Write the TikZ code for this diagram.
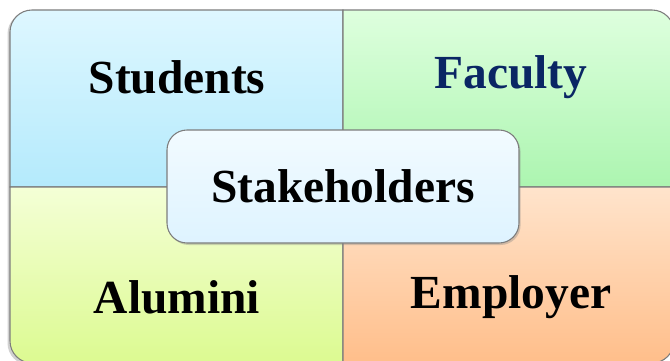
\documentclass[tikz,border=0pt]{standalone}
\usepackage{fontspec}
\setmainfont{Liberation Serif}
\usetikzlibrary{shadows}
\definecolor{navy}{RGB}{10,38,100}
\definecolor{edge}{RGB}{125,125,125}
\begin{document}
\begin{tikzpicture}[x=0.75pt,y=-0.75pt,
  quad/.style={draw=edge,line width=0.8pt},
  lbl/.style={font=\fontsize{35.6}{40}\selectfont\bfseries,inner sep=0pt},
  centerbox/.style={draw=edge,line width=0.8pt,rounded corners=15pt,
    top color={rgb,255:red,242;green,251;blue,255},bottom color={rgb,255:red,222;green,243;blue,255},
    minimum width=264pt,minimum height=84.75pt,
    drop shadow={shadow xshift=1.2pt,shadow yshift=-1.5pt,opacity=0.35}},
]
\useasboundingbox (0,0) rectangle (670,360);
% soft outer shadow
\fill[black,opacity=0.18,rounded corners=16.5pt] (7.5,12) rectangle (672,365);
% quadrants (one rounded outer corner each)
\path[quad,top color={rgb,255:red,222;green,247;blue,255},bottom color={rgb,255:red,180;green,234;blue,252}]
  (10,100) {[rounded corners=16.5pt] -- (10,10) -- (176,10)} -- (343,10) -- (343,187) -- (10,187) -- cycle;
\path[quad,top color={rgb,255:red,222;green,255;blue,222},bottom color={rgb,255:red,172;green,245;blue,176}]
  (507,10) {[rounded corners=16.5pt] -- (674,10) -- (674,100)} -- (674,187) -- (343,187) -- (343,10) -- cycle;
\path[quad,top color={rgb,255:red,244;green,255;blue,214},bottom color={rgb,255:red,220;green,250;blue,145}]
  (10,275) {[rounded corners=16.5pt] -- (10,363) -- (176,363)} -- (343,363) -- (343,187) -- (10,187) -- cycle;
\path[quad,top color={rgb,255:red,255;green,228;blue,204},bottom color={rgb,255:red,255;green,190;blue,138}]
  (507,363) {[rounded corners=16.5pt] -- (674,363) -- (674,275)} -- (674,187) -- (343,187) -- (343,363) -- cycle;
% labels
\node[lbl] (students) at (177,77) {Students};
\node[lbl,text=navy] (faculty) at (511,77) {Faculty};
\node[lbl] (alumini) at (177,297) {Alumini};
\node[lbl] (employer) at (511,297) {Employer};
\node[centerbox,lbl] (stake) at (343,186.5) {Stakeholders};
\end{tikzpicture}
\end{document}
